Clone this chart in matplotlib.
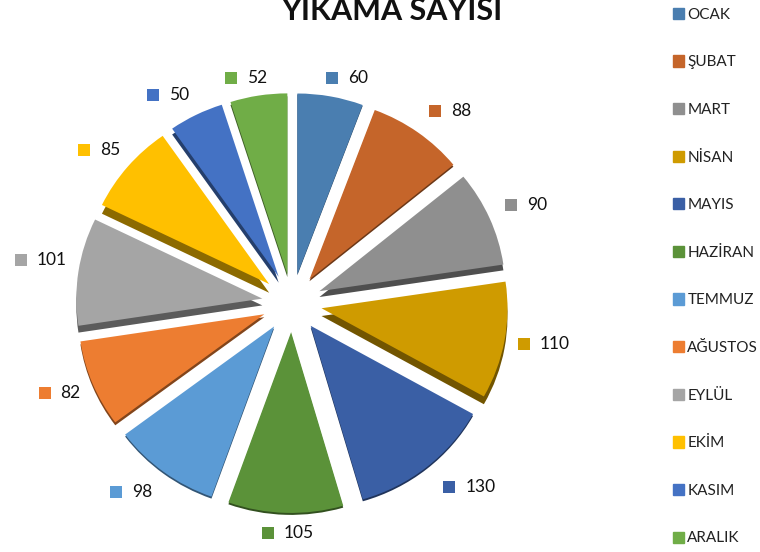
import numpy as np
import matplotlib.pyplot as plt
from matplotlib.colors import to_rgb
from matplotlib.patches import Patch

plt.rcParams['font.family'] = ['Lato', 'DejaVu Sans']

months = ['OCAK', 'ŞUBAT', 'MART', 'NİSAN', 'MAYIS', 'HAZİRAN', 'TEMMUZ',
          'AĞUSTOS', 'EYLÜL', 'EKİM', 'KASIM', 'ARALIK']
washes = [60, 88, 90, 110, 130, 105, 98, 82, 101, 85, 50, 52]
colors = ['#4A7EB0', '#C5652A', '#8F8F8F', '#CF9B00', '#3A5FA5', '#5B9239',
          '#5B9BD5', '#ED7D31', '#A5A5A5', '#FFC000', '#4472C4', '#70AD47']

# how far each slice's side wall shows, and label distance from the centre (px)
depth = [1, 2, 6, 8, 2, 2, 2, 3, 7, 9, 6, 3]
label_dist = [229, 245, 247, 252, 254, 232, 250, 252, 257, 248, 241, 228]
# nudges for the labels, in px (y down)
label_dx = [12, 13, 6, -3, 12, -4, -14, -2, -4, -6, -19, -13]
label_dy = [0, 7, 2, -4, -15, -2, -12, -7, -4, 8, 8, 0]

cx, cy = 292, 552 - 303
radius = 186
explode = [30] * len(washes)  # pie adds this in data units, here px
squash = 0.972  # the tilted pie is a little flatter than it is wide

fig = plt.figure(figsize=(7.6, 5.52), dpi=100)
ax = fig.add_axes([0, 0, 1, 1])

# dark copies underneath give the 3D edge
for i in range(len(washes)):
    dark = [c * 0.55 for c in to_rgb(colors[i])]
    wall_colors = [dark if j == i else (0, 0, 0, 0) for j in range(len(washes))]
    ax.pie(washes, colors=wall_colors, explode=explode, startangle=90,
           counterclock=False, radius=radius, center=(cx, cy - depth[i]),
           frame=False)

ax.pie(washes, colors=colors, explode=explode, startangle=90,
       counterclock=False, radius=radius, center=(cx, cy), frame=False)

ax.set_aspect('auto')
ax.set_xlim(0, 760)
ax.set_ylim(cy - cy / squash, cy + (552 - cy) / squash)
ax.axis('off')

# data labels: small square plus value
edges = np.cumsum([0] + washes) / sum(washes) * 2 * np.pi
for i, v in enumerate(washes):
    mid = (edges[i] + edges[i + 1]) / 2
    x = cx + label_dist[i] * np.sin(mid) + label_dx[i]
    y = cy + (label_dist[i] * np.cos(mid) - label_dy[i]) / squash
    ax.plot(x - 13, y, marker='s', ms=8.2, mew=0, color=colors[i])
    ax.text(x + 3, y, str(v), fontsize=12.5, color='#111111', va='center', ha='left')

fig.text(392 / 760, 1 - 11 / 552, 'YIKAMA SAYISI', fontsize=22, fontweight='bold',
         color='#111111', ha='center', va='center')

handles = [Patch(color=c, label=m) for c, m in zip(colors, months)]
fig.legend(handles=handles, loc='upper left', bbox_to_anchor=(659 / 760, 1 + 6 / 552),
           frameon=False, fontsize=11, handlelength=0.75, handleheight=0.75,
           handletextpad=0.2, labelspacing=2.2, labelcolor='#222222')

fig.savefig('out.png', dpi=100)
